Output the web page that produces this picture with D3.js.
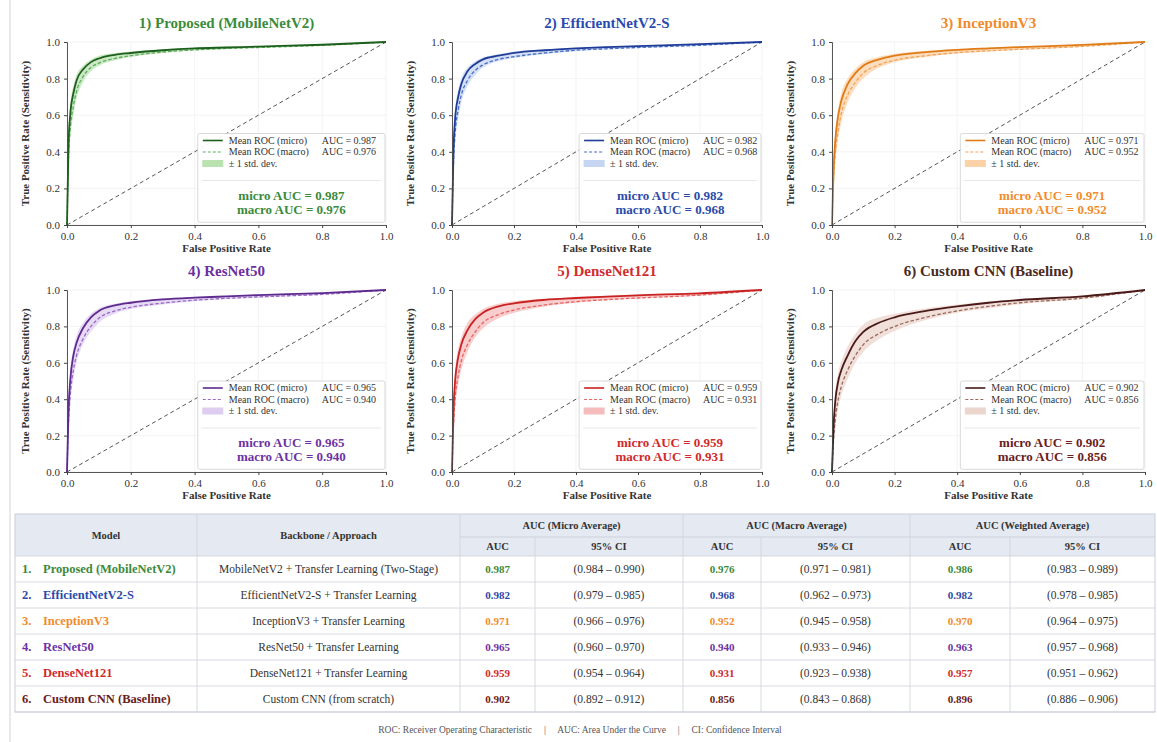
<!DOCTYPE html>
<html>
<head>
<meta charset="utf-8">
<script src="https://cdn.jsdelivr.net/npm/d3@7"></script>
<style>
  body { margin: 0; background: #fff; }
  svg { display: block; font-family: "Liberation Serif", "DejaVu Serif", serif; }
</style>
</head>
<body>
<svg id="fig" width="1157" height="742"></svg>
<script>
// ---- data ----
const panelTitles = ["1) Proposed (MobileNetV2)", "2) EfficientNetV2-S", "3) InceptionV3",
                     "4) ResNet50", "5) DenseNet121", "6) Custom CNN (Baseline)"]
const microAucs = [0.987, 0.982, 0.971, 0.965, 0.959, 0.902]
const macroAucs = [0.976, 0.968, 0.952, 0.940, 0.931, 0.856]

const fprGrid = [0, 0.005, 0.01, 0.02, 0.03, 0.05, 0.075, 0.1, 0.15, 0.2, 0.3, 0.4, 0.5, 0.6, 0.8, 1.0]

const microTpr = [
  [0, 0.45, 0.60, 0.72, 0.79, 0.85, 0.89, 0.91, 0.93, 0.94, 0.955, 0.965, 0.970, 0.975, 0.985, 1],
  [0, 0.42, 0.58, 0.70, 0.77, 0.84, 0.88, 0.905, 0.925, 0.94, 0.955, 0.965, 0.972, 0.978, 0.988, 1],
  [0, 0.30, 0.45, 0.60, 0.68, 0.77, 0.83, 0.87, 0.905, 0.925, 0.945, 0.957, 0.965, 0.972, 0.984, 1],
  [0, 0.35, 0.50, 0.64, 0.71, 0.79, 0.85, 0.885, 0.915, 0.93, 0.948, 0.958, 0.965, 0.972, 0.983, 1],
  [0, 0.35, 0.50, 0.63, 0.70, 0.78, 0.84, 0.875, 0.91, 0.927, 0.946, 0.956, 0.964, 0.971, 0.982, 1],
  [0, 0.25, 0.38, 0.50, 0.56, 0.64, 0.72, 0.77, 0.82, 0.85, 0.885, 0.91, 0.93, 0.945, 0.965, 1]
]
const macroTpr = [
  [0, 0.38, 0.52, 0.65, 0.73, 0.81, 0.86, 0.885, 0.91, 0.925, 0.945, 0.957, 0.965, 0.970, 0.982, 1],
  [0, 0.35, 0.50, 0.63, 0.71, 0.79, 0.845, 0.875, 0.905, 0.92, 0.94, 0.955, 0.963, 0.970, 0.982, 1],
  [0, 0.25, 0.38, 0.52, 0.61, 0.71, 0.78, 0.83, 0.875, 0.90, 0.925, 0.942, 0.952, 0.960, 0.976, 1],
  [0, 0.28, 0.42, 0.56, 0.64, 0.73, 0.80, 0.845, 0.885, 0.905, 0.928, 0.944, 0.954, 0.962, 0.976, 1],
  [0, 0.26, 0.40, 0.53, 0.61, 0.70, 0.77, 0.82, 0.865, 0.89, 0.918, 0.936, 0.947, 0.956, 0.972, 1],
  [0, 0.18, 0.28, 0.40, 0.47, 0.56, 0.64, 0.70, 0.76, 0.80, 0.85, 0.885, 0.91, 0.93, 0.955, 1]
]
const bandLo = [
  [0, 0.33, 0.47, 0.60, 0.69, 0.78, 0.84, 0.87, 0.90, 0.918, 0.94, 0.953, 0.962, 0.968, 0.980, 1],
  [0, 0.30, 0.45, 0.58, 0.67, 0.76, 0.82, 0.86, 0.895, 0.912, 0.935, 0.95, 0.96, 0.967, 0.980, 1],
  [0, 0.20, 0.33, 0.47, 0.56, 0.67, 0.75, 0.80, 0.86, 0.89, 0.918, 0.937, 0.948, 0.957, 0.974, 1],
  [0, 0.23, 0.37, 0.51, 0.60, 0.70, 0.77, 0.82, 0.87, 0.895, 0.92, 0.938, 0.95, 0.958, 0.974, 1],
  [0, 0.21, 0.35, 0.48, 0.56, 0.66, 0.74, 0.79, 0.845, 0.875, 0.91, 0.93, 0.943, 0.953, 0.970, 1],
  [0, 0.14, 0.23, 0.35, 0.42, 0.51, 0.60, 0.66, 0.73, 0.775, 0.835, 0.875, 0.90, 0.922, 0.950, 1]
]
const bandHi = [
  [0, 0.50, 0.65, 0.76, 0.82, 0.87, 0.905, 0.925, 0.94, 0.948, 0.96, 0.968, 0.974, 0.978, 0.988, 1],
  [0, 0.47, 0.63, 0.74, 0.80, 0.86, 0.895, 0.915, 0.935, 0.947, 0.96, 0.968, 0.975, 0.980, 0.990, 1],
  [0, 0.36, 0.50, 0.64, 0.72, 0.80, 0.855, 0.89, 0.92, 0.935, 0.952, 0.962, 0.970, 0.976, 0.987, 1],
  [0, 0.40, 0.55, 0.68, 0.75, 0.82, 0.87, 0.90, 0.925, 0.938, 0.953, 0.962, 0.969, 0.975, 0.986, 1],
  [0, 0.40, 0.55, 0.68, 0.74, 0.82, 0.865, 0.895, 0.925, 0.938, 0.953, 0.962, 0.969, 0.975, 0.986, 1],
  [0, 0.30, 0.43, 0.55, 0.61, 0.69, 0.76, 0.81, 0.85, 0.87, 0.90, 0.92, 0.937, 0.950, 0.970, 1]
]
const axisTicks = [0, 0.2, 0.4, 0.6, 0.8, 1.0]

// table
const modelNames = ["Proposed (MobileNetV2)", "EfficientNetV2-S", "InceptionV3", "ResNet50", "DenseNet121", "Custom CNN (Baseline)"]
const backbones = ["MobileNetV2 + Transfer Learning (Two-Stage)", "EfficientNetV2-S + Transfer Learning",
                   "InceptionV3 + Transfer Learning", "ResNet50 + Transfer Learning",
                   "DenseNet121 + Transfer Learning", "Custom CNN (from scratch)"]
const microCi = ["(0.984 – 0.990)", "(0.979 – 0.985)", "(0.966 – 0.976)", "(0.960 – 0.970)", "(0.954 – 0.964)", "(0.892 – 0.912)"]
const macroCi = ["(0.971 – 0.981)", "(0.962 – 0.973)", "(0.945 – 0.958)", "(0.933 – 0.946)", "(0.923 – 0.938)", "(0.843 – 0.868)"]
const weightedAucs = [0.986, 0.982, 0.970, 0.963, 0.957, 0.896]
const weightedCi = ["(0.983 – 0.989)", "(0.978 – 0.985)", "(0.964 – 0.975)", "(0.957 – 0.968)", "(0.951 – 0.962)", "(0.886 – 0.906)"]
const groupHeads = ["AUC (Micro Average)", "AUC (Macro Average)", "AUC (Weighted Average)"]
const footnote = "ROC: Receiver Operating Characteristic     |     AUC: Area Under the Curve     |     CI: Confidence Interval"

// ---- styling ----
const pal = [
  {title: "#3a8c3a", micro: "#1d5f1d", macro: "#5fae5f", band: "#b9e2b0", text: "#3b8a3b"},
  {title: "#2a4ab0", micro: "#1f3c98", macro: "#4a6cc6", band: "#c6d5f1", text: "#2c4aa8"},
  {title: "#f08a2a", micro: "#e07c18", macro: "#f3a458", band: "#fbd2a8", text: "#f08c2c"},
  {title: "#6b2fa0", micro: "#5e2a8e", macro: "#9a6ac6", band: "#decdf0", text: "#6d32a2"},
  {title: "#d22c2c", micro: "#c82222", macro: "#e86464", band: "#f6bcbc", text: "#d02a2a"},
  {title: "#4a2a22", micro: "#4a1a1a", macro: "#9a6a5e", band: "#ecd5cc", text: "#6a2020"}
]
const colX = [[67, 386], [452, 762], [832, 1145]]
const rowY = [[42, 225], [290, 472]]

const svg = d3.select("#fig")
svg.append("line").attr("x1", 10).attr("x2", 10).attr("y1", 0).attr("y2", 742)
   .attr("stroke", "#d4d4d4").attr("stroke-width", 1)

panelTitles.forEach(function(title, i) {
  const cx = colX[i % 3], ry = rowY[Math.floor(i / 3)]
  const x = d3.scaleLinear().domain([0, 1]).range(cx)
  const y = d3.scaleLinear().domain([0, 1]).range([ry[1], ry[0]])
  const p = pal[i]
  const g = svg.append("g")

  // grid
  g.selectAll(".gx").data(axisTicks).enter().append("line")
    .attr("x1", d => x(d)).attr("x2", d => x(d)).attr("y1", ry[0]).attr("y2", ry[1])
    .attr("stroke", "#f0f0f0").attr("stroke-width", 0.8)
  g.selectAll(".gy").data(axisTicks).enter().append("line")
    .attr("x1", cx[0]).attr("x2", cx[1]).attr("y1", d => y(d)).attr("y2", d => y(d))
    .attr("stroke", "#f0f0f0").attr("stroke-width", 0.8)

  const pts = fprGrid.map((f, k) => ({f: f, mi: microTpr[i][k], ma: macroTpr[i][k], lo: bandLo[i][k], hi: bandHi[i][k]}))

  g.append("path").datum(pts)
    .attr("d", d3.area().x(d => x(d.f)).y0(d => y(d.lo)).y1(d => y(d.hi)).curve(d3.curveMonotoneX))
    .attr("fill", p.band).attr("opacity", 0.75)

  // chance line
  g.append("line").attr("x1", x(0)).attr("y1", y(0)).attr("x2", x(1)).attr("y2", y(1))
    .attr("stroke", "#555").attr("stroke-width", 1).attr("stroke-dasharray", "4,3")

  g.append("path").datum(pts)
    .attr("d", d3.line().x(d => x(d.f)).y(d => y(d.ma)).curve(d3.curveMonotoneX))
    .attr("fill", "none").attr("stroke", p.macro).attr("stroke-width", 1.3).attr("stroke-dasharray", "3.5,2")
  g.append("path").datum(pts)
    .attr("d", d3.line().x(d => x(d.f)).y(d => y(d.mi)).curve(d3.curveMonotoneX))
    .attr("fill", "none").attr("stroke", p.micro).attr("stroke-width", 1.8)

  // axes
  const ax = g.append("g").attr("transform", "translate(0," + ry[1] + ")")
    .call(d3.axisBottom(x).tickValues(axisTicks).tickFormat(d3.format(".1f")).tickSize(3).tickPadding(4))
  const ay = g.append("g").attr("transform", "translate(" + cx[0] + ",0)")
    .call(d3.axisLeft(y).tickValues(axisTicks).tickFormat(d3.format(".1f")).tickSize(3).tickPadding(4))
  ;[ax, ay].forEach(a => {
    a.select(".domain").attr("stroke", "#444").attr("stroke-width", 0.9)
    a.selectAll(".tick line").attr("stroke", "#444")
    a.selectAll("text").attr("fill", "#333").style("font-size", "11px").style("font-family", "Liberation Serif")
  })

  g.append("text").attr("x", (cx[0] + cx[1]) / 2).attr("y", ry[1] + 27)
    .attr("text-anchor", "middle").style("font-size", "11px").style("font-weight", "bold").attr("fill", "#333")
    .text("False Positive Rate")
  g.append("text").attr("transform", "translate(" + (cx[0] - 38) + "," + ((ry[0] + ry[1]) / 2) + ") rotate(-90)")
    .attr("text-anchor", "middle").style("font-size", "11px").style("font-weight", "bold").attr("fill", "#333")
    .text("True Positive Rate (Sensitivity)")
  g.append("text").attr("x", (cx[0] + cx[1]) / 2).attr("y", ry[0] - 14)
    .attr("text-anchor", "middle").style("font-size", "15px").style("font-weight", "bold").attr("fill", p.title)
    .text(title)

  // legend box
  const lx = x(0.41), ly = y(0.5), lw = x(1) - 1 - lx, lh = y(0.015) - ly
  const lg = g.append("g").attr("transform", "translate(" + lx + "," + ly + ")")
  lg.append("rect").attr("width", lw).attr("height", lh).attr("rx", 2)
    .attr("fill", "#fff").attr("fill-opacity", 0.92).attr("stroke", "#cfcfcf").attr("stroke-width", 0.8)
  const rows = [
    {lab: "Mean ROC (micro)", auc: "AUC = " + microAucs[i].toFixed(3), kind: "micro"},
    {lab: "Mean ROC (macro)", auc: "AUC = " + macroAucs[i].toFixed(3), kind: "macro"},
    {lab: "± 1 std. dev.", auc: "", kind: "band"}
  ]
  const le = lg.selectAll(".le").data(rows).enter().append("g")
    .attr("transform", (d, k) => "translate(0," + (7 + k * 11.5) + ")")
  le.filter(d => d.kind === "band").append("rect").attr("x", 5).attr("y", -3).attr("width", 20).attr("height", 6)
    .attr("fill", p.band).attr("stroke", p.band)
  le.filter(d => d.kind !== "band").append("line").attr("x1", 5).attr("x2", 25)
    .attr("stroke", d => d.kind === "micro" ? p.micro : p.macro)
    .attr("stroke-width", d => d.kind === "micro" ? 1.6 : 1.2)
    .attr("stroke-dasharray", d => d.kind === "micro" ? null : "3,2")
  le.append("text").attr("x", 31).attr("y", 3.4).style("font-size", "10px").attr("fill", "#333").text(d => d.lab)
  le.append("text").attr("x", 124).attr("y", 3.4).style("font-size", "10px").attr("fill", "#333").text(d => d.auc)
  lg.append("line").attr("x1", 4).attr("x2", lw - 4).attr("y1", 47).attr("y2", 47)
    .attr("stroke", "#dcdcdc").attr("stroke-width", 0.7)
  lg.append("text").attr("x", lw / 2).attr("y", 66).attr("text-anchor", "middle")
    .style("font-size", "13px").style("font-weight", "bold").attr("fill", p.text)
    .text("micro AUC = " + microAucs[i].toFixed(3))
  lg.append("text").attr("x", lw / 2).attr("y", 80).attr("text-anchor", "middle")
    .style("font-size", "13px").style("font-weight", "bold").attr("fill", p.text)
    .text("macro AUC = " + macroAucs[i].toFixed(3))
})

// ---- table ----
const tTop = 514, hMid = 537, hBot = 556, rowH = 26
const edges = [15, 197, 460, 535, 683, 761, 910, 1010, 1155]
const tBot = hBot + rowH * modelNames.length
const t = svg.append("g").style("font-size", "11.5px")

t.append("rect").attr("x", edges[0]).attr("y", tTop).attr("width", edges[8] - edges[0]).attr("height", hBot - tTop)
  .attr("fill", "#e4e9f2")
// row separators
t.selectAll(".rs").data(d3.range(modelNames.length + 1)).enter().append("line")
  .attr("x1", edges[0]).attr("x2", edges[8])
  .attr("y1", k => hBot + k * rowH).attr("y2", k => hBot + k * rowH)
  .attr("stroke", "#d3d6dc").attr("stroke-width", 0.9)
t.append("line").attr("x1", edges[2]).attr("x2", edges[8]).attr("y1", hMid).attr("y2", hMid)
  .attr("stroke", "#c9ced8").attr("stroke-width", 0.9)
// verticals
t.selectAll(".vl").data(edges.slice(1, 8)).enter().append("line")
  .attr("x1", d => d).attr("x2", d => d)
  .attr("y1", (d, k) => (k === 2 || k === 4 || k === 6) ? hMid : tTop).attr("y2", tBot)
  .attr("stroke", "#d3d6dc").attr("stroke-width", 0.9)
t.append("rect").attr("x", edges[0]).attr("y", tTop).attr("width", edges[8] - edges[0]).attr("height", tBot - tTop)
  .attr("fill", "none").attr("stroke", "#c9ced8").attr("stroke-width", 1)

const hText = (txt, xx, yy) => t.append("text").attr("x", xx).attr("y", yy).attr("text-anchor", "middle")
  .style("font-weight", "bold").style("font-size", "10.5px").attr("fill", "#333").text(txt)
hText("Model", (edges[0] + edges[1]) / 2, (tTop + hBot) / 2 + 3.5)
hText("Backbone / Approach", (edges[1] + edges[2]) / 2, (tTop + hBot) / 2 + 3.5)
groupHeads.forEach((h, k) => {
  const a = edges[2 + 2 * k], b = edges[4 + 2 * k]
  hText(h, (a + b) / 2, (tTop + hMid) / 2 + 3.5)
  hText("AUC", (a + edges[3 + 2 * k]) / 2, (hMid + hBot) / 2 + 3.5)
  hText("95% CI", (edges[3 + 2 * k] + b) / 2, (hMid + hBot) / 2 + 3.5)
})

modelNames.forEach((name, r) => {
  const yy = hBot + r * rowH + rowH / 2 + 4
  const c = pal[r].text
  t.append("text").attr("x", 22).attr("y", yy).style("font-weight", "bold").style("font-size", "12.5px").attr("fill", c).text((r + 1) + ".")
  t.append("text").attr("x", 43).attr("y", yy).style("font-weight", "bold").style("font-size", "12.5px").attr("fill", c).text(name)
  t.append("text").attr("x", (edges[1] + edges[2]) / 2).attr("y", yy).attr("text-anchor", "middle").attr("fill", "#333").text(backbones[r])
  const cells = [
    [microAucs[r].toFixed(3), true], [microCi[r], false],
    [macroAucs[r].toFixed(3), true], [macroCi[r], false],
    [weightedAucs[r].toFixed(3), true], [weightedCi[r], false]
  ]
  cells.forEach((cell, k) => {
    t.append("text").attr("x", (edges[2 + k] + edges[3 + k]) / 2).attr("y", yy).attr("text-anchor", "middle")
      .style("font-weight", cell[1] ? "bold" : "normal").style("font-size", cell[1] ? "11px" : "11.5px")
      .attr("fill", cell[1] ? c : "#333").text(cell[0])
  })
})

svg.append("text").attr("x", 580).attr("y", 733).attr("text-anchor", "middle")
  .style("font-size", "9.5px").attr("fill", "#555").style("white-space", "pre")
  .text(footnote)
</script>
</body>
</html>
